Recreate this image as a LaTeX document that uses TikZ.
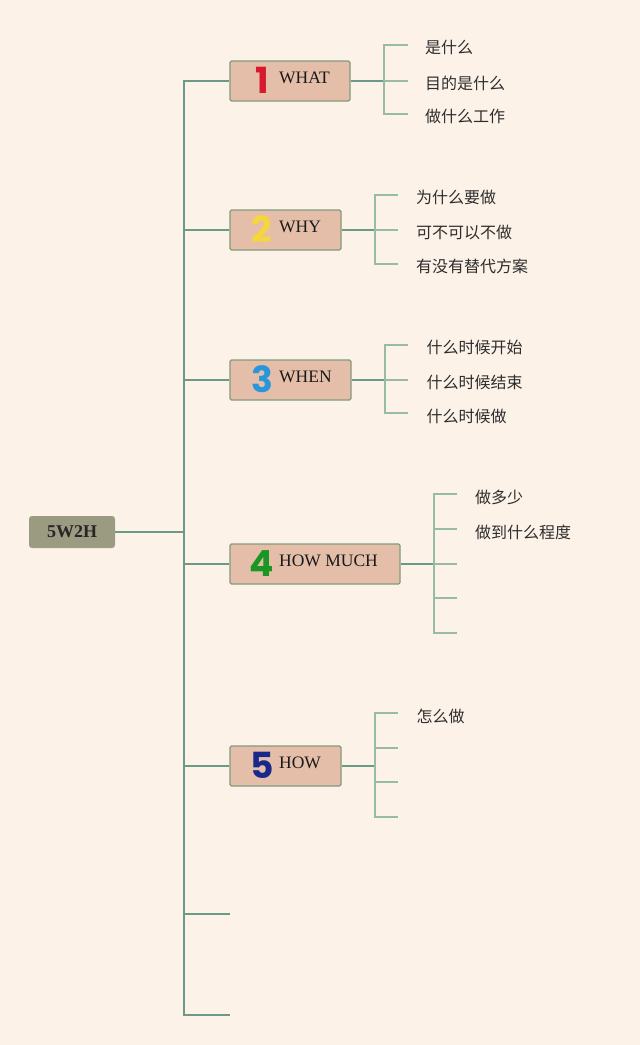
\documentclass[tikz,border=0pt]{standalone}
\usepackage{fontspec}
\setmainfont{Liberation Serif}
\newfontfamily\cjk{Noto Sans CJK SC}
\newfontfamily\digitfont{Poppins}
\definecolor{bgc}{RGB}{253,242,232}
\definecolor{boxfill}{RGB}{228,190,168}
\definecolor{boxdraw}{RGB}{130,155,125}
\definecolor{rootfill}{RGB}{155,155,130}
\definecolor{trunkc}{RGB}{105,155,135}
\definecolor{leafc}{RGB}{150,188,168}
\definecolor{txtc}{RGB}{45,45,45}
\definecolor{dA}{RGB}{215,25,45}
\definecolor{dB}{RGB}{245,215,60}
\definecolor{dC}{RGB}{40,150,220}
\definecolor{dD}{RGB}{25,150,35}
\definecolor{dE}{RGB}{25,40,140}
\tikzset{
  topic/.style={draw=boxdraw, line width=1.3pt, fill=boxfill, rounded corners=1.5pt, minimum height=40pt, inner sep=0pt},
  rootbox/.style={fill=rootfill, rounded corners=3pt, minimum width=86pt, minimum height=32pt, inner sep=0pt, font=\bfseries\fontsize{18}{18}\selectfont, text=black!85},
  digit/.style={anchor=base, inner sep=0pt, font=\digitfont\bfseries\fontsize{36}{36}\selectfont},
  label/.style={anchor=base west, inner sep=0pt, font=\fontsize{17.5}{17.5}\selectfont, text=black!90},
  leaftext/.style={anchor=west, inner sep=0pt, font=\cjk\fontsize{16}{16}\selectfont, text=txtc},
  trunk/.style={draw=trunkc, line width=2pt},
  link/.style={draw=trunkc, line width=2.2pt},
  leaf/.style={draw=leafc, line width=1.8pt},
}
\begin{document}
\begin{tikzpicture}[x=1pt,y=-1pt]
\fill[bgc] (0,0) rectangle (640,1045);
\useasboundingbox (0,0) rectangle (640,1045);

% root
\node[rootbox] (root) at (72,532) {5W2H};

% topic boxes
\node[topic, minimum width=120pt] (b1) at (290,81) {};
\node[topic, minimum width=111pt] (b2) at (285.5,230) {};
\node[topic, minimum width=121pt] (b3) at (290.5,380) {};
\node[topic, minimum width=170pt] (b4) at (315,564) {};
\node[topic, minimum width=111pt] (b5) at (285.5,766) {};

\node[digit, text=dA] (n1) at (262,93.5) {1};
\node[label] (t1) at (279,83.5) {WHAT};
\node[digit, text=dB] (n2) at (262,242.5) {2};
\node[label] (t2) at (279,232.5) {WHY};
\node[digit, text=dC] (n3) at (262,392.5) {3};
\node[label] (t3) at (279,382.5) {WHEN};
\node[digit, text=dD] (n4) at (262,576.5) {4};
\node[label] (t4) at (279,566.5) {HOW MUCH};
\node[digit, text=dE] (n5) at (262,778.5) {5};
\node[label] (t5) at (279,768.5) {HOW};

% trunk
\coordinate (jr) at (184,532);
\coordinate (j6) at (184,914);
\coordinate (j7) at (184,1015);
\coordinate (s6) at (230,914);
\coordinate (s7) at (230,1015);
\draw[trunk] (b1.west) -| (j7) -- (s7);
\draw[trunk] (root.east) -- (jr);
\draw[trunk] (b2.west) -- (b2.west -| jr);
\draw[trunk] (b3.west) -- (b3.west -| jr);
\draw[trunk] (b4.west) -- (b4.west -| jr);
\draw[trunk] (b5.west) -- (b5.west -| jr);
\draw[trunk] (j6) -- (s6);

% WHAT
\coordinate (k1) at (384,81);
\coordinate (l11) at (408,45);
\coordinate (l12) at (408,81);
\coordinate (l13) at (408,114);
\draw[link] (b1.east) -- (k1);
\draw[leaf] (l11) -| (k1) |- (l13);
\draw[leaf] (k1) -- (l12);
\node[leaftext] (w1) at (425,47.5) {是什么};
\node[leaftext] (w2) at (425,83) {目的是什么};
\node[leaftext] (w3) at (425,116.5) {做什么工作};

% WHY
\coordinate (k2) at (375,230);
\coordinate (l21) at (398,195);
\coordinate (l22) at (398,230);
\coordinate (l23) at (398,264);
\draw[link] (b2.east) -- (k2);
\draw[leaf] (l21) -| (k2) |- (l23);
\draw[leaf] (k2) -- (l22);
\node[leaftext] (y1) at (416,197.5) {为什么要做};
\node[leaftext] (y2) at (416,232) {可不可以不做};
\node[leaftext] (y3) at (416,266.5) {有没有替代方案};

% WHEN
\coordinate (k3) at (385,380);
\coordinate (l31) at (408,345);
\coordinate (l32) at (408,380);
\coordinate (l33) at (408,413);
\draw[link] (b3.east) -- (k3);
\draw[leaf] (l31) -| (k3) |- (l33);
\draw[leaf] (k3) -- (l32);
\node[leaftext] (e1) at (426.5,347.5) {什么时候开始};
\node[leaftext] (e2) at (426.5,382) {什么时候结束};
\node[leaftext] (e3) at (426.5,416) {什么时候做};

% HOW MUCH
\coordinate (k4) at (434,564);
\coordinate (l41) at (457,494);
\coordinate (l42) at (457,529);
\coordinate (l43) at (457,564);
\coordinate (l44) at (457,598);
\coordinate (l45) at (457,633);
\draw[link] (b4.east) -- (k4);
\draw[leaf] (l41) -| (k4) |- (l45);
\draw[leaf] (l42) -| (k4);
\draw[leaf] (l44) -| (k4);
\draw[leaf] (k4) -- (l43);
\node[leaftext] (m1) at (475,497) {做多少};
\node[leaftext] (m2) at (475,532) {做到什么程度};

% HOW
\coordinate (k5) at (375,766);
\coordinate (l51) at (398,713);
\coordinate (l52) at (398,748);
\coordinate (l53) at (398,782);
\coordinate (l54) at (398,817);
\draw[link] (b5.east) -- (k5);
\draw[leaf] (l51) -| (k5) |- (l54);
\draw[leaf] (l52) -| (k5);
\draw[leaf] (l53) -| (k5);
\node[leaftext] (h1) at (416.5,716) {怎么做};
\end{tikzpicture}
\end{document}
